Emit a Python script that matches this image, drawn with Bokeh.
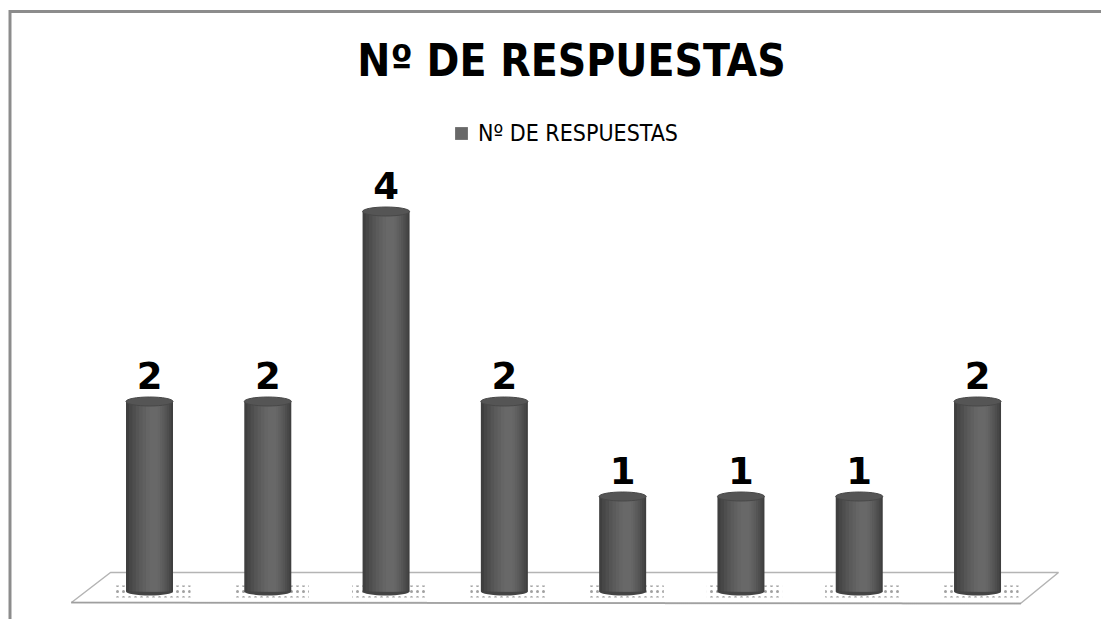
from bokeh.plotting import figure
from bokeh.models import (Range1d, ColumnDataSource, Label, LabelSet, Legend,
                          LegendItem)
from bokeh.core.properties import value
from bokeh.transform import dodge
from bokeh.embed import file_html
from bokeh.resources import INLINE

# ---- data ----
categories = ["1", "2", "3", "4", "5", "6", "7", "8"]
respuestas = [2, 2, 4, 2, 1, 1, 1, 2]
series_name = "Nº DE RESPUESTAS"
chart_title = "Nº DE RESPUESTAS"

W, H = 1101, 619
PX_PER_CAT = 118.29
PX_PER_UNIT = 95.0
x_start = -149 / PX_PER_CAT
y_start = -(H - 591) / PX_PER_UNIT
x_end = x_start + W / PX_PER_CAT
y_end = y_start + H / PX_PER_UNIT


def px_x(px):
    return x_start + px / PX_PER_CAT


def px_y(py):
    return y_start + (H - py) / PX_PER_UNIT


xs = list(range(len(categories)))
labels = [str(v) for v in respuestas]
src = ColumnDataSource(dict(x=xs, top=respuestas, label=labels,
                            zero=[0] * len(xs)))

p = figure(width=W, height=H, output_backend="svg", toolbar_location=None,
           x_range=Range1d(x_start, x_end), y_range=Range1d(y_start, y_end),
           min_border=0)
p.axis.visible = False
p.grid.visible = False
p.outline_line_color = None
p.background_fill_color = "white"
p.border_fill_color = "white"

# chart border (left & top visible)
p.line([px_x(9.5), px_x(9.5), px_x(W + 5)], [px_y(H + 5), px_y(11), px_y(11)],
       line_color="#8c8c8c", line_width=3, line_join="miter")

# floor (3D base plane)
fx = [px_x(71), px_x(1020), px_x(1058), px_x(110)]
fy = [px_y(602), px_y(603), px_y(572), px_y(572)]
p.patch(fx, fy, fill_color="white", line_color="#b4b4b4", line_width=1.5)
p.line([px_x(71), px_x(1020)], [px_y(602), px_y(603)], line_color="#8a8a8a",
       line_width=2, line_dash="1 1")

bw = 47 / PX_PER_CAT
# dotted shadow under each cylinder
p.rect(x=dodge("x", 0.03, range=p.x_range), y="zero", width=bw * 1.6,
       height=12, height_units="screen",
       source=src, fill_alpha=0, line_color=None, hatch_pattern="dot",
       hatch_color="#8a8a8a", hatch_scale=6, hatch_weight=1.0,
       hatch_alpha=0.8)
# cylinder bottoms
p.ellipse(x="x", y="zero", width=bw, height=8, height_units="screen",
          source=src, fill_color="#444444", line_color=None)
# cylinder body with shading strips
p.vbar(x="x", top="top", bottom=0, width=bw, source=src,
       fill_color="#3f3f3f", line_color=None)
strips = []
for frac, col, off in [(0.90, "#474747", 0.005), (0.78, "#4e4e4e", 0.01),
                       (0.66, "#555555", 0.015), (0.54, "#5b5b5b", 0.02),
                       (0.42, "#606060", 0.025), (0.30, "#656565", 0.03),
                       (0.18, "#686868", 0.035)]:
    strips.append(p.vbar(x=dodge("x", off, range=p.x_range), top="top",
                         bottom=0, width=bw * frac, source=src,
                         fill_color=col, line_color=None))
# cylinder tops
p.ellipse(x="x", y="top", width=bw, height=9, height_units="screen",
          source=src, fill_color="#555555", line_color="#484848",
          line_width=1)

# value labels
p.add_layout(LabelSet(x="x", y="top", text="label", source=src,
                      y_offset=13, text_align="center",
                      text_baseline="bottom",
                      text_font=value("DejaVu Sans"),
                      text_font_style="bold",
                      text_font_size="37px", text_color="black"))

# title
p.add_layout(Label(x=571, y=H - 60, x_units="screen", y_units="screen",
                   text=chart_title, text_align="center",
                   text_baseline="middle",
                   text_font="DejaVu Sans Condensed", text_font_style="bold",
                   text_font_size="44px", text_color="black"))

# legend
legend = Legend(items=[LegendItem(label=series_name, renderers=[strips[-1]])],
                location=(453, H - 133 - 13), orientation="horizontal",
                glyph_width=16, glyph_height=16, label_standoff=9,
                padding=0, margin=0, spacing=0,
                border_line_color=None, background_fill_alpha=0,
                label_text_font="DejaVu Sans Condensed",
                label_text_font_size="23px", label_text_color="black")
p.add_layout(legend)

open("out.html", "w").write(file_html(p, INLINE))
